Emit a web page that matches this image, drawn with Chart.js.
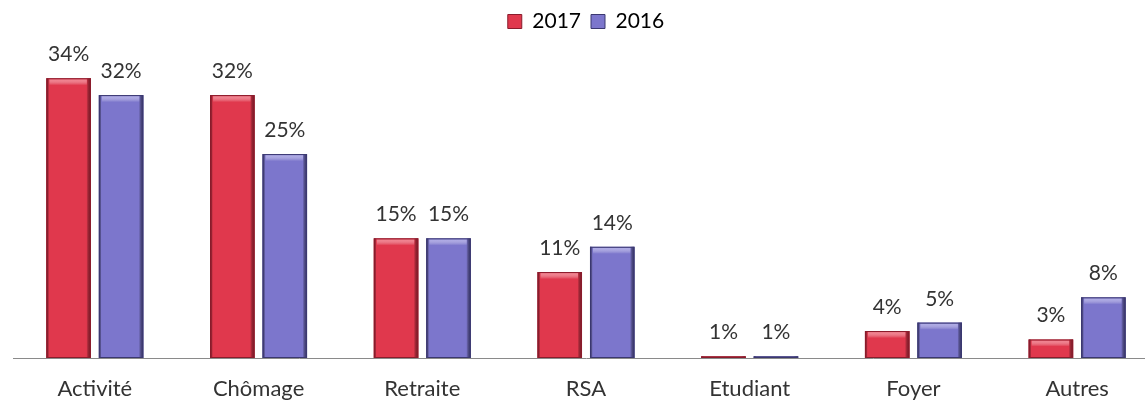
<!DOCTYPE html>
<html lang="fr">
<head>
<meta charset="utf-8">
<title>Situation 2017 / 2016</title>
<script src="https://cdn.jsdelivr.net/npm/chart.js@4/dist/chart.umd.min.js"></script>
<style>
  html, body { margin: 0; padding: 0; background: #fff; overflow: hidden; }
  .wrap { position: relative; width: 1172px; height: 407px; }
</style>
</head>
<body>
<div class="wrap"><canvas id="situationChart"></canvas></div>
<script>
/* ============================================================
   DONNÉES
============================================================ */
const categories = ['Activité', 'Chômage', 'Retraite', 'RSA', 'Etudiant', 'Foyer', 'Autres'];
const values2017 = [34, 32, 15, 11, 1, 4, 3];
const values2016 = [32, 25, 15, 14, 1, 5, 8];
const seriesNames = ['2017', '2016'];

const FONT = "Lato, 'Open Sans', sans-serif";
const AXIS_MIN = 0.8;

// couleurs : [principale, bord sombre, reflet]
const RED  = ['#e0384d', '#8a1c2c', '#f27a88'];
const BLUE = ['#7c76cc', '#3b3870', '#a9a5e6'];

/* ============================================================
   PLUGIN — relief des barres (bords sombres + reflet en haut)
============================================================ */
const bevelPlugin = {
  id: 'bevel',
  afterDatasetsDraw(chart) {
    const { ctx } = chart;
    chart.data.datasets.forEach((ds, di) => {
      const pal = di === 0 ? RED : BLUE;
      chart.getDatasetMeta(di).data.forEach(bar => {
        const { x, y, base, width } = bar.getProps(['x', 'y', 'base', 'width'], true);
        const l = x - width / 2, h = base - y;
        if (h <= 0) return;
        ctx.save();
        // ombrage horizontal
        const g = ctx.createLinearGradient(l, 0, l + width, 0);
        g.addColorStop(0, pal[1]);
        g.addColorStop(0.06, 'rgba(0,0,0,0)');
        g.addColorStop(0.9, 'rgba(0,0,0,0)');
        g.addColorStop(1, pal[1]);
        ctx.fillStyle = g;
        ctx.fillRect(l, y, width, h);
        // reflet du haut
        if (h > 6) {
          const cap = Math.min(7, h / 2);
          const t = ctx.createLinearGradient(0, y, 0, y + cap);
          t.addColorStop(0, pal[2]);
          t.addColorStop(1, 'rgba(255,255,255,0)');
          ctx.fillStyle = t;
          ctx.fillRect(l + 3, y + 1, width - 7, cap);
        }
        ctx.strokeStyle = pal[1];
        ctx.lineWidth = 1;
        ctx.strokeRect(l + 0.5, y + 0.5, width - 1, Math.max(h - 1, 0.5));
        ctx.restore();
      });
    });
  }
};

/* ============================================================
   PLUGIN — étiquettes de valeurs au-dessus des barres
============================================================ */
const valueLabels = {
  id: 'valueLabels',
  afterDatasetsDraw(chart) {
    const { ctx } = chart;
    ctx.save();
    ctx.font = `21px ${FONT}`;
    ctx.fillStyle = '#333';
    ctx.textAlign = 'center';
    ctx.textBaseline = 'alphabetic';
    chart.data.datasets.forEach((ds, di) => {
      chart.getDatasetMeta(di).data.forEach((bar, i) => {
        ctx.fillText(ds.data[i] + '%', bar.x, bar.y - 17);
      });
    });
    ctx.restore();
  }
};

/* ============================================================
   CHART.JS — histogramme groupé
============================================================ */
new Chart(document.getElementById('situationChart'), {
  type: 'bar',
  data: {
    labels: categories,
    datasets: [
      { label: seriesNames[0], data: values2017, base: AXIS_MIN, backgroundColor: RED[0], borderWidth: 0 },
      { label: seriesNames[1], data: values2016, base: AXIS_MIN, backgroundColor: BLUE[0], borderWidth: 0 }
    ]
  },
  options: {
    responsive: true,
    maintainAspectRatio: false,
    animation: false,
    categoryPercentage: 0.641,
    barPercentage: 0.848,
    layout: { padding: { left: 13, right: 13, top: 1, bottom: 0 } },
    plugins: {
      legend: {
        position: 'top',
        labels: {
          boxWidth: 14, boxHeight: 14, padding: 10,
          color: '#333',
          font: { family: FONT, size: 21 },
          generateLabels: chart => chart.data.datasets.map((ds, i) => ({
            text: ds.label,
            fillStyle: i === 0 ? RED[0] : BLUE[0],
            strokeStyle: i === 0 ? RED[1] : BLUE[1],
            lineWidth: 1,
            datasetIndex: i
          }))
        }
      },
      tooltip: { enabled: false }
    },
    scales: {
      x: {
        grid: { display: false, drawTicks: false },
        border: { display: true, color: '#8a8a8a', width: 1 },
        ticks: { color: '#333', padding: 18, font: { family: FONT, size: 22 } },
        afterFit: scale => { scale.height = 49; }
      },
      y: {
        display: false,
        min: AXIS_MIN,
        max: 38.3
      }
    }
  },
  plugins: [bevelPlugin, valueLabels]
});
</script>
</body>
</html>
